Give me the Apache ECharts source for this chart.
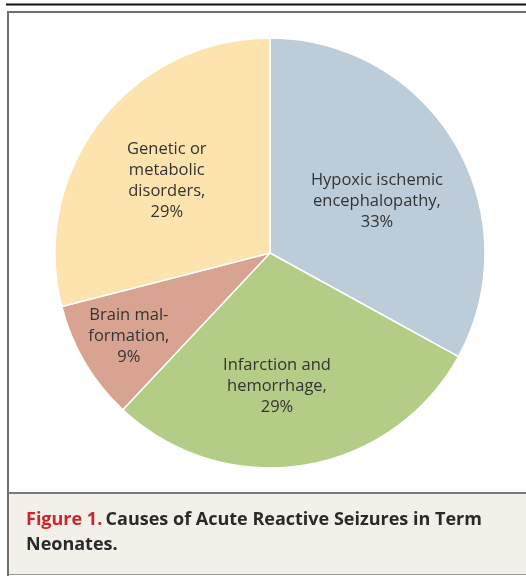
<!DOCTYPE html>
<html>
<head>
<meta charset="utf-8">
<script src="https://cdn.jsdelivr.net/npm/echarts@6/dist/echarts.min.js"></script>
<style>
html,body{margin:0;padding:0;background:#fff;}
#chart{width:526px;height:576px;}
</style>
</head>
<body>
<div id="chart"></div>
<script>
const categories = ["Hypoxic ischemic\nencephalopathy,", "Infarction and\nhemorrhage,", "Brain mal-\nformation,", "Genetic or\nmetabolic\ndisorders,"];
const values = [33, 29, 9, 29];
const sliceColors = ["#bccdd9", "#b3cd86", "#d9a391", "#fde3ae"];
const captionLead = "Figure 1.";
const captionLine1 = "Causes of Acute Reactive Seizures in Term";
const captionLine2 = "Neonates.";

const cx = 270, cy = 253, R = 215;
// label offsets (radius, relative to slice centre angle)
const labelRadius = [119, 133, 164, 126];
const labelAngleShift = [4.6, 6, 0, -2.8];

const chart = echarts.init(document.getElementById('chart'), null, {renderer: 'canvas'});
const total = values.reduce((a, b) => a + b, 0);
let acc = 0;
const midAngles = values.map(v => { const m = (acc + v / 2) / total * 360; acc += v; return m; });

const textColor = '#333333';
const fontFam = '"Open Sans", "Noto Sans", sans-serif';

chart.setOption({
  animation: false,
  backgroundColor: '#ffffff',
  graphic: [
    {type: 'line', shape: {x1: 6, y1: 4.5, x2: 526, y2: 4.5}, style: {stroke: '#111', lineWidth: 2}},
    {type: 'rect', shape: {x: 8, y: 494, width: 520, height: 80}, style: {fill: '#f3f0ea'}},
    {type: 'line', shape: {x1: 8, y1: 493, x2: 526, y2: 493}, style: {stroke: '#7a7a7a', lineWidth: 2}},
    {type: 'line', shape: {x1: 8, y1: 574.5, x2: 526, y2: 574.5}, style: {stroke: '#9a9a9a', lineWidth: 1}},
    {type: 'polyline', shape: {points: [[8, 576], [8, 12], [526, 12]]}, style: {stroke: '#707070', lineWidth: 2, fill: null}},
    {type: 'text', x: 26, y: 507, style: {
      text: '{r|' + captionLead + '} {b|' + captionLine1 + '}\n{b|' + captionLine2 + '}',
      rich: {
        r: {fill: '#d2232a', fontSize: 18, fontWeight: 'bold', fontFamily: fontFam, lineHeight: 25},
        b: {fill: '#2a2a2a', fontSize: 18, fontWeight: 'bold', fontFamily: fontFam, lineHeight: 25}
      }
    }}
  ],
  series: [{
    type: 'pie',
    center: [cx, cy],
    radius: [0, R],
    startAngle: 90,
    clockwise: true,
    silent: true,
    itemStyle: {borderColor: '#ffffff', borderWidth: 1.5},
    label: {
      show: true,
      position: 'inside',
      formatter: p => p.name + '\n' + p.value + '%',
      color: textColor,
      fontSize: 16.5,
      lineHeight: 21,
      fontFamily: fontFam,
      align: 'center',
      verticalAlign: 'middle'
    },
    labelLine: {show: false},
    labelLayout: function (params) {
      const i = params.dataIndex;
      const a = (midAngles[i] + labelAngleShift[i]) * Math.PI / 180;
      return {
        x: cx + labelRadius[i] * Math.sin(a),
        y: cy - labelRadius[i] * Math.cos(a),
        align: 'center',
        verticalAlign: 'middle'
      };
    },
    data: categories.map((c, i) => ({name: c, value: values[i], itemStyle: {color: sliceColors[i]}}))
  }]
});
</script>
</body>
</html>
